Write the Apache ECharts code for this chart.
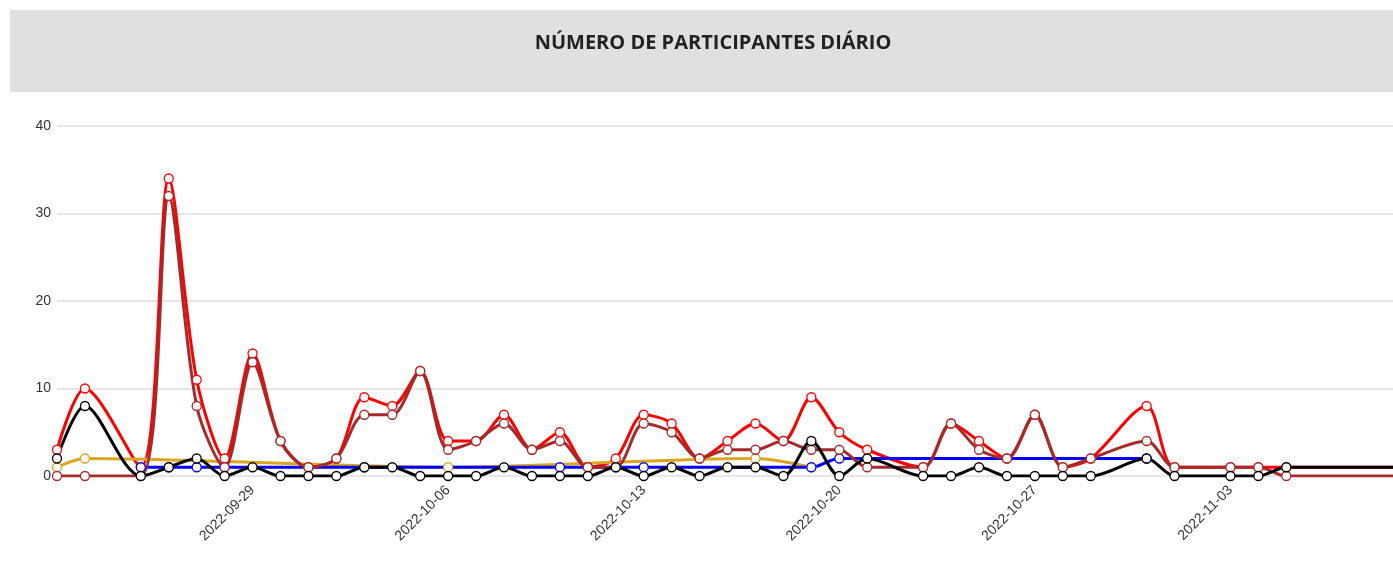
<!DOCTYPE html>
<html>
<head>
<meta charset="utf-8">
<script src="https://cdn.jsdelivr.net/npm/echarts@6/dist/echarts.min.js"></script>
<style>
html,body{margin:0;padding:0;background:#fff;overflow:hidden;}
#chart{width:1426px;height:571px;}
</style>
</head>
<body>
<div id="chart"></div>
<script>
// ---- data ----
const titleText = 'NÚMERO DE PARTICIPANTES DIÁRIO';
const dates = ['2022-09-22','2022-09-23','2022-09-25','2022-09-26','2022-09-27','2022-09-28','2022-09-29','2022-09-30',
  '2022-10-01','2022-10-02','2022-10-03','2022-10-04','2022-10-05','2022-10-06','2022-10-07','2022-10-08','2022-10-09',
  '2022-10-10','2022-10-11','2022-10-12','2022-10-13','2022-10-14','2022-10-15','2022-10-16','2022-10-17','2022-10-18',
  '2022-10-19','2022-10-20','2022-10-21','2022-10-23','2022-10-24','2022-10-25','2022-10-26','2022-10-27','2022-10-28',
  '2022-10-29','2022-10-31','2022-11-01','2022-11-03','2022-11-04','2022-11-05','2022-11-10'];
const totalValues = [3,10,1,34,11,2,14,4,1,2,9,8,12,4,4,7,3,5,1,2,7,6,2,4,6,4,9,5,3,1,6,4,2,7,1,2,8,1,1,1,1,1];
const brownValues = [0,0,0,32,8,1,13,4,1,2,7,7,12,3,4,6,3,4,1,1,6,5,2,3,3,4,3,3,1,1,6,3,2,7,1,2,4,1,1,1,0,0];
const blackValues = [2,8,0,1,2,0,1,0,0,0,1,1,0,0,0,1,0,0,0,1,0,1,0,1,1,0,4,0,2,0,0,1,0,0,0,0,2,0,0,0,1,1];
const blueDates  = ['2022-09-25','2022-09-26','2022-09-27','2022-09-28','2022-10-03','2022-10-10','2022-10-13','2022-10-19','2022-10-20','2022-10-31'];
const blueValues = [1,1,1,1,1,1,1,1,2,2];
const goldDates  = ['2022-09-22','2022-09-23','2022-10-06','2022-10-17','2022-10-19'];
const goldValues = [1,2,1,2,1];
const tickDates  = ['2022-09-29','2022-10-06','2022-10-13','2022-10-20','2022-10-27','2022-11-03'];
const axisMinDate = '2022-09-22';
const axisMaxDate = '2022-11-10';
const yTicks = [0,10,20,30,40];

// every calendar day of the axis (category axis)
const days = [];
{
  const pad = n => String(n).padStart(2, '0');
  const d = new Date(axisMinDate + 'T00:00:00Z');
  const end = new Date(axisMaxDate + 'T00:00:00Z');
  while (d <= end) {
    days.push(d.getUTCFullYear() + '-' + pad(d.getUTCMonth() + 1) + '-' + pad(d.getUTCDate()));
    d.setUTCDate(d.getUTCDate() + 1);
  }
}
const align = (ds, vs) => {
  const m = {};
  ds.forEach((d, i) => { m[d] = vs[i]; });
  return days.map(d => (d in m ? m[d] : null));
};

function lineSeries(name, color, data) {
  return {
    name: name, type: 'line', data: data, smooth: 0.3, connectNulls: true,
    symbol: 'circle', symbolSize: 9,
    lineStyle: {color: color, width: 3},
    itemStyle: {color: '#fff', borderColor: color, borderWidth: 1.3, opacity: 1},
    emphasis: {disabled: true}
  };
}

const chart = echarts.init(document.getElementById('chart'), null, {renderer: 'canvas'});
chart.setOption({
  animation: false,
  graphic: [{type: 'rect', z: 0, shape: {x: 10, y: 10, width: 1416, height: 82}, style: {fill: '#e0e0e0'}}],
  title: {
    text: titleText, left: 'center', top: 28,
    textStyle: {fontFamily: 'Open Sans', fontWeight: 'bold', fontSize: 20, color: '#222'}
  },
  grid: {left: 57, right: -3, top: 126, bottom: 95, containLabel: false},
  xAxis: {
    type: 'category', data: days, boundaryGap: false,
    axisLine: {show: false}, axisTick: {show: false}, splitLine: {show: false},
    axisLabel: {
      interval: (idx, val) => tickDates.indexOf(val) >= 0,
      rotate: 45, margin: 12, fontSize: 14, color: '#333', fontFamily: 'Liberation Sans'
    }
  },
  yAxis: {
    type: 'value', min: yTicks[0], max: yTicks[yTicks.length - 1], interval: 10,
    axisLine: {show: false}, axisTick: {show: false},
    axisLabel: {fontSize: 14, color: '#333', margin: 6, fontFamily: 'Liberation Sans'},
    splitLine: {lineStyle: {color: '#e6e6e6', width: 2}}
  },
  series: [
    lineSeries('Total', '#ff0000', align(dates, totalValues)),
    lineSeries('Gold', '#daa520', align(goldDates, goldValues)),
    lineSeries('Blue', '#0000ff', align(blueDates, blueValues)),
    lineSeries('Brown', '#a52a2a', align(dates, brownValues)),
    lineSeries('Black', '#000000', align(dates, blackValues))
  ]
});
</script>
</body>
</html>
